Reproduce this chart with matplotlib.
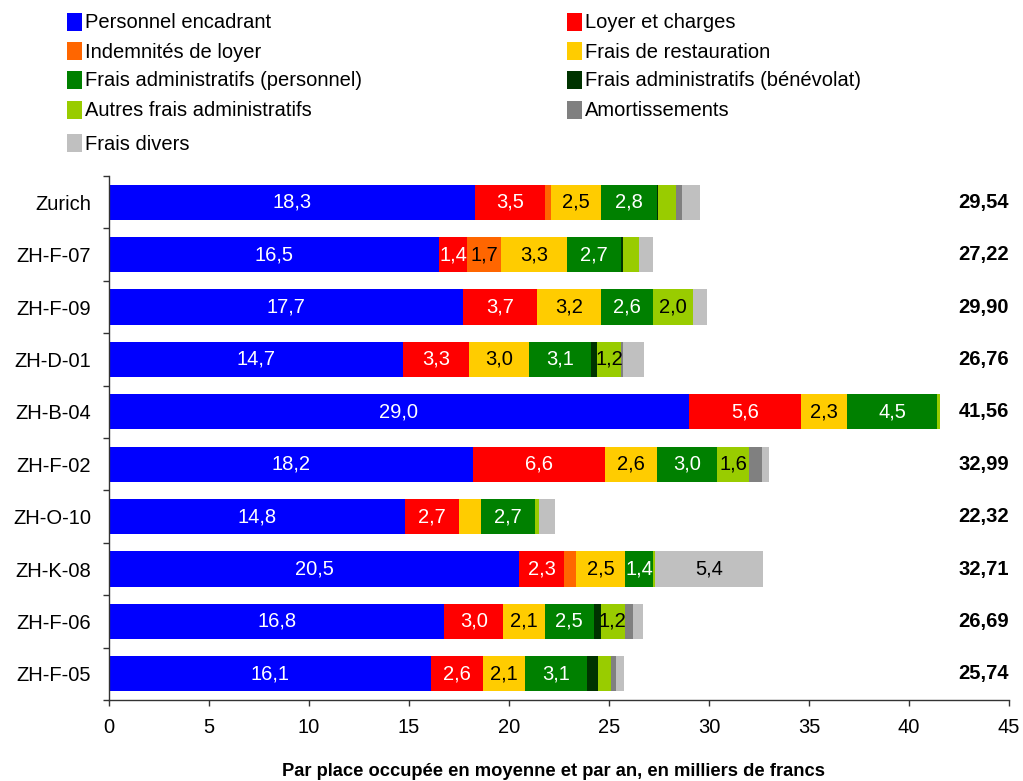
import matplotlib
matplotlib.use("Agg")
import matplotlib.pyplot as plt
from matplotlib.patches import Rectangle
import numpy as np

plt.rcParams['font.family'] = ['Liberation Sans', 'DejaVu Sans']

categories = ["Zurich", "ZH-F-07", "ZH-F-09", "ZH-D-01", "ZH-B-04",
              "ZH-F-02", "ZH-O-10", "ZH-K-08", "ZH-F-06", "ZH-F-05"]

series_names = [
    "Personnel encadrant", "Loyer et charges", "Indemnités de loyer",
    "Frais de restauration", "Frais administratifs (personnel)",
    "Frais administratifs (bénévolat)", "Autres frais administratifs",
    "Amortissements", "Frais divers",
]
series_colors = ["#0000FF", "#FF0000", "#FF6600", "#FFCC00", "#008000",
                 "#003300", "#99CC00", "#808080", "#C0C0C0"]
label_colors = ["white", "white", "black", "black", "white",
                "white", "black", "white", "black"]

personnel = [18.3, 16.5, 17.7, 14.7, 29.0, 18.2, 14.8, 20.5, 16.76, 16.1]
loyer = [3.5, 1.4, 3.7, 3.3, 5.6, 6.6, 2.7, 2.26, 2.96, 2.6]
indemnites = [0.3, 1.7, 0.0, 0.0, 0.0, 0.0, 0.0, 0.6, 0.0, 0.0]
restauration = [2.5, 3.3, 3.2, 3.0, 2.3, 2.6, 1.1, 2.46, 2.06, 2.1]
admin_personnel = [2.8, 2.7, 2.6, 3.1, 4.5, 3.0, 2.7, 1.36, 2.46, 3.1]
admin_benevolat = [0.05, 0.1, 0.0, 0.3, 0.0, 0.0, 0.0, 0.0, 0.35, 0.55]
autres_admin = [0.9, 0.8, 2.0, 1.2, 0.16, 1.6, 0.22, 0.14, 1.2, 0.65]
amortissements = [0.3, 0.0, 0.0, 0.1, 0.0, 0.65, 0.0, 0.0, 0.4, 0.25]
frais_divers = [0.89, 0.72, 0.7, 1.06, 0.0, 0.34, 0.8, 5.39, 0.5, 0.39]

totals = [29.54, 27.22, 29.90, 26.76, 41.56, 32.99, 22.32, 32.71, 26.69, 25.74]

series = [personnel, loyer, indemnites, restauration, admin_personnel,
          admin_benevolat, autres_admin, amortissements, frais_divers]

W, H = 1023, 781
fig = plt.figure(figsize=(W / 100, H / 100), dpi=100)
ax = fig.add_axes([109 / W, 1 - 700 / H, 900 / W, 524 / H])

y = np.arange(len(categories))
left = np.zeros(len(categories))
for vals, name, col, lcol in zip(series, series_names, series_colors, label_colors):
    vals = np.array(vals)
    ax.barh(y, vals, left=left, height=0.67, color=col, label=name,
            edgecolor="none")
    for yi, (v, l) in enumerate(zip(vals, left)):
        if v >= 1.15:
            ax.text(l + v / 2, yi, f"{v:.1f}".replace(".", ","),
                    ha="center", va="center", color=lcol, fontsize=14.5)
    left = left + vals

for yi, t in enumerate(totals):
    ax.text(45, yi, f"{t:.2f}".replace(".", ","), ha="right", va="center",
            fontsize=14.5, fontweight="bold", color="black")

ax.set_xlim(0, 45)
ax.set_ylim(len(categories) - 0.5, -0.5)
ax.set_xticks(np.arange(0, 46, 5))
ax.set_xticklabels([str(v) for v in range(0, 46, 5)])
ax.set_yticks(y)
ax.set_yticklabels(categories)
ax.set_yticks(np.arange(-0.5, len(categories), 1.0), minor=True)
ax.tick_params(axis="y", which="major", length=0, pad=13, labelsize=14.5)
ax.tick_params(axis="y", which="minor", length=4, width=1, color="#333333")
ax.tick_params(axis="x", which="major", length=4, width=1, color="#333333",
               pad=9, labelsize=14.5)
for s in ["top", "right"]:
    ax.spines[s].set_visible(False)
for s in ["left", "bottom"]:
    ax.spines[s].set_color("#333333")
    ax.spines[s].set_linewidth(1)

fig.text(553 / W, 1 - 771 / H,
         "Par place occupée en moyenne et par an, en milliers de francs",
         ha="center", va="center", fontsize=13.2, fontweight="bold")

# Legend: two columns, filled row by row
row_y = [22, 51, 80, 110, 143]
col_x = [67, 567]
for i, (name, col) in enumerate(zip(series_names, series_colors)):
    r, c = divmod(i, 2)
    yc = row_y[r]
    x0 = col_x[c]
    fig.add_artist(Rectangle((x0 / W, 1 - (yc + 9) / H), 15 / W, 18 / H,
                             transform=fig.transFigure, facecolor=col,
                             edgecolor="none"))
    fig.text((x0 + 18) / W, 1 - (yc + 1) / H, name, ha="left", va="center",
             fontsize=14.5)

fig.savefig("out.png", dpi=100)
